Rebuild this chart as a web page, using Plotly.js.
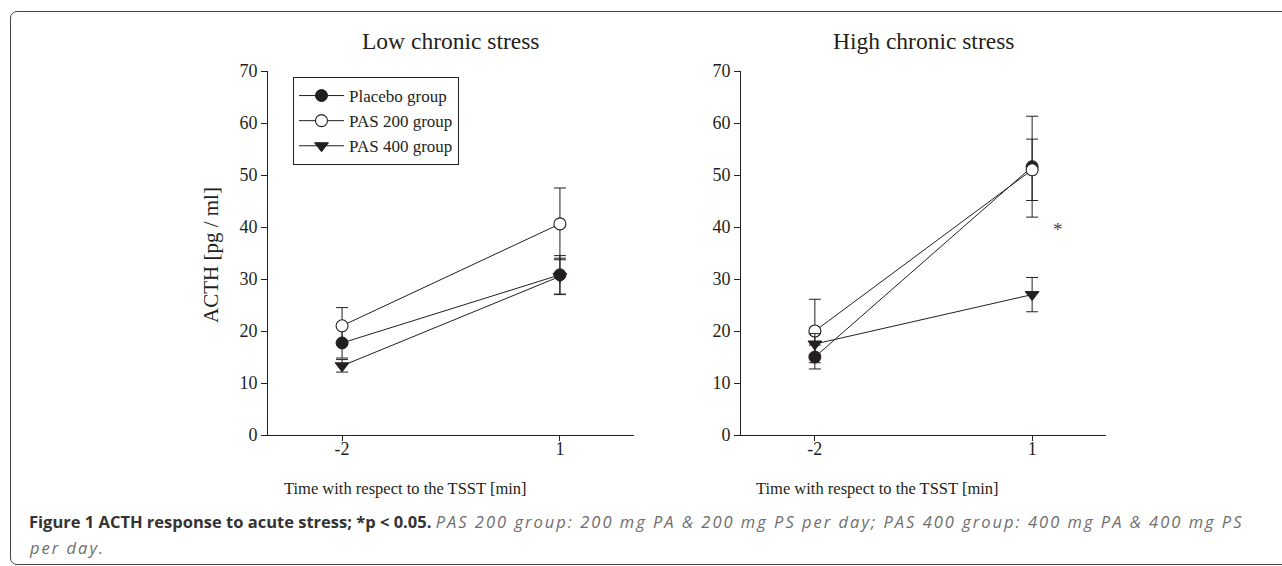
<!DOCTYPE html>
<html>
<head>
<meta charset="utf-8">
<script src="https://cdn.plot.ly/plotly-3.0.1.min.js"></script>
<style>
  html, body { margin: 0; padding: 0; background: #fff; overflow: hidden; }
  #wrap { position: relative; width: 1282px; height: 566px; }
  #chart { position: absolute; left: 0; top: 0; width: 1282px; height: 566px; }
  #frame { position: absolute; left: 10px; top: 11px; width: 1300px; height: 552px;
           border: 1.6px solid #444; border-radius: 7px 0 0 7px; pointer-events: none; }
</style>
</head>
<body>
<div id="wrap">
  <div id="chart"></div>
  <div id="frame"></div>
</div>
<script>
// ---- data ----
const times = [-2, 1];
const tickLabels = ['-2', '1'];
const seriesNames = ['Placebo group', 'PAS 200 group', 'PAS 400 group'];

// Low chronic stress
const placeboLow = [17.7, 30.8];
const placeboLowErr = [2.9, 3.7];
const pas200Low = [21.0, 40.6];
const pas200LowErr = [3.5, 6.9];
const pas400Low = [13.3, 30.5];
const pas400LowErr = [1.2, 3.5];

// High chronic stress
const placeboHigh = [15.0, 51.6];
const placeboHighErr = [2.3, 9.7];
const pas200High = [20.0, 51.0];
const pas200HighErr = [6.1, 5.9];
const pas400High = [17.5, 27.0];
const pas400HighErr = [2.0, 3.3];

const panelTitles = ['Low chronic stress', 'High chronic stress'];
const yTitle = 'ACTH [pg / ml]';
const xTitle = 'Time with respect to the TSST [min]';

// ---- styling ----
const W = 1282, H = 566;
const ink = '#231f20';
const serif = 'Liberation Serif, Times New Roman, serif';
const px = v => v / W;
const py = v => 1 - v / H;

function mk(yv, ev, idx, xa, ya, showLegend) {
  let marker;
  if (idx === 0) marker = {symbol: 'circle', size: 12, color: ink, line: {color: ink, width: 1}};
  else if (idx === 1) marker = {symbol: 'circle', size: 12, color: '#ffffff', line: {color: ink, width: 1.1}};
  else marker = {symbol: 'triangle-down', size: 12, color: ink, line: {color: ink, width: 1}};
  return {
    type: 'scatter', mode: 'lines+markers',
    x: times, y: yv, xaxis: xa, yaxis: ya,
    name: seriesNames[idx], showlegend: showLegend,
    line: {color: ink, width: 1},
    marker: marker,
    error_y: {type: 'data', array: ev, visible: true, color: ink, thickness: 1, width: 6}
  };
}

const data = [
  mk(placeboLow, placeboLowErr, 0, 'x', 'y', true),
  mk(pas200Low, pas200LowErr, 1, 'x', 'y', true),
  mk(pas400Low, pas400LowErr, 2, 'x', 'y', true),
  mk(placeboHigh, placeboHighErr, 0, 'x2', 'y2', false),
  mk(pas200High, pas200HighErr, 1, 'x2', 'y2', false),
  mk(pas400High, pas400HighErr, 2, 'x2', 'y2', false)
];

const xCommon = {
  range: [-3.02, 2.02], tickvals: times, ticktext: tickLabels,
  showline: true, linecolor: ink, linewidth: 1, showgrid: false, zeroline: false,
  ticks: 'outside', ticklen: 5, tickcolor: ink, tickwidth: 1, ticklabelstandoff: -8,
  tickfont: {family: serif, size: 18, color: ink}, fixedrange: true
};
const yCommon = {
  range: [0, 70], tickvals: [0, 10, 20, 30, 40, 50, 60, 70],
  showline: true, linecolor: ink, linewidth: 1, showgrid: false, zeroline: false,
  ticks: 'outside', ticklen: 6, tickcolor: ink, tickwidth: 1,
  tickfont: {family: serif, size: 18, color: ink}, fixedrange: true
};
const yDom = [py(435), py(71)];

const capFont = 'Open Sans, sans-serif';
const annotations = [
  {text: panelTitles[0], xref: 'paper', yref: 'paper', x: px(451), y: py(41),
   xanchor: 'center', yanchor: 'middle', showarrow: false, font: {family: serif, size: 23.5, color: ink}},
  {text: panelTitles[1], xref: 'paper', yref: 'paper', x: px(923), y: py(41),
   xanchor: 'center', yanchor: 'middle', showarrow: false, font: {family: serif, size: 23.5, color: ink}},
  {text: xTitle, xref: 'paper', yref: 'paper', x: px(405), y: py(488),
   xanchor: 'center', yanchor: 'middle', showarrow: false, font: {family: serif, size: 16.5, color: ink}},
  {text: xTitle, xref: 'paper', yref: 'paper', x: px(877), y: py(488),
   xanchor: 'center', yanchor: 'middle', showarrow: false, font: {family: serif, size: 16.5, color: ink}},
  {text: yTitle, xref: 'paper', yref: 'paper', x: px(211), y: py(255), textangle: -90,
   xanchor: 'center', yanchor: 'middle', showarrow: false, font: {family: serif, size: 21, color: ink}},
  {text: '*', xref: 'x2', yref: 'y2', x: 1.36, y: 39.6,
   xanchor: 'center', yanchor: 'middle', showarrow: false, font: {family: serif, size: 19, color: '#444'}},
  {text: '<b>Figure 1 ACTH response to acute stress; *p &lt; 0.05.</b> ' +
         '<i><span style="color:#6d6e70;letter-spacing:2px">PAS 200 group: 200 mg PA &amp; 200 mg PS per day; PAS 400 group: 400 mg PA &amp; 400 mg PS</span></i>',
   xref: 'paper', yref: 'paper', x: px(27), y: py(521), xanchor: 'left', yanchor: 'middle',
   showarrow: false, align: 'left', font: {family: capFont, size: 16.5, color: '#333'}},
  {text: '<i><span style="letter-spacing:2px">per day.</span></i>', xref: 'paper', yref: 'paper', x: px(27), y: py(547), xanchor: 'left', yanchor: 'middle',
   showarrow: false, align: 'left', font: {family: capFont, size: 16.5, color: '#6d6e70'}}
];

const layout = {
  width: W, height: H,
  margin: {l: 0, r: 0, t: 0, b: 0},
  paper_bgcolor: '#ffffff', plot_bgcolor: '#ffffff',
  showlegend: true,
  legend: {
    x: px(293), y: py(77), xanchor: 'left', yanchor: 'top',
    bordercolor: ink, borderwidth: 1, bgcolor: '#ffffff',
    font: {family: serif, size: 17, color: ink},
    tracegroupgap: 0, itemwidth: 45
  },
  xaxis: Object.assign({}, xCommon, {domain: [px(268), px(634)], anchor: 'y'}),
  yaxis: Object.assign({}, yCommon, {domain: yDom, anchor: 'x'}),
  xaxis2: Object.assign({}, xCommon, {domain: [px(741), px(1106)], anchor: 'y2'}),
  yaxis2: Object.assign({}, yCommon, {domain: yDom, anchor: 'x2'}),
  annotations: annotations
};

Plotly.newPlot('chart', data, layout, {staticPlot: true, displayModeBar: false});
</script>
</body>
</html>
